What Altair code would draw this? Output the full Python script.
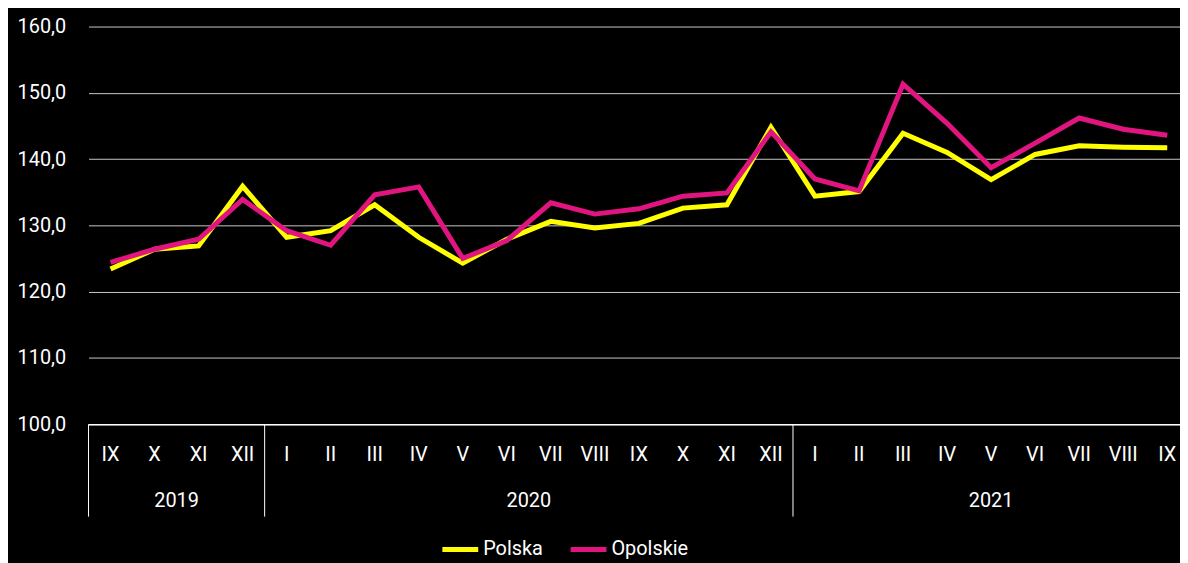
import altair as alt
import pandas as pd

months = ["IX", "X", "XI", "XII",
          "I", "II", "III", "IV", "V", "VI", "VII", "VIII", "IX", "X", "XI", "XII",
          "I", "II", "III", "IV", "V", "VI", "VII", "VIII", "IX"]
polska = [123.4, 126.4, 126.9, 135.9,
          128.2, 129.2, 133.1, 128.2, 124.3, 127.9, 130.6, 129.6, 130.3, 132.6, 133.1, 144.8,
          134.4, 135.1, 143.9, 141.0, 136.9, 140.7, 142.0, 141.8, 141.7]
opolskie = [124.4, 126.4, 127.9, 133.9,
            129.2, 127.0, 134.6, 135.8, 125.0, 127.7, 133.4, 131.7, 132.5, 134.4, 134.9, 144.1,
            137.0, 135.2, 151.3, 145.4, 138.7, 142.4, 146.2, 144.5, 143.6]
years = ["2019", "2020", "2021"]
year_centers = [1.5, 9.5, 20.0]
separators = [-0.5, 3.5, 15.5]
series_names = ["Polska", "Opolskie"]
series_colors = ["#FFFF00", "#E0157F"]

FONT = "Liberation Sans Narrow, Roboto, sans-serif"

rows = []
for i, m in enumerate(months):
    rows.append({"idx": i, "month": m, "series": "Polska", "value": polska[i]})
    rows.append({"idx": i, "month": m, "series": "Opolskie", "value": opolskie[i]})
df = pd.DataFrame(rows)
mdf = pd.DataFrame({"idx": list(range(len(months))), "month": months})
ydf = pd.DataFrame({"center": year_centers, "year": years})
sdf = pd.DataFrame({"pos": separators})

xscale = alt.Scale(domain=[-0.5, 24.29], nice=False, zero=False)
yscale = alt.Scale(domain=[100, 160], nice=False, zero=False)

lines = alt.Chart(df).mark_line(strokeWidth=5, strokeJoin="miter").encode(
    x=alt.X("idx:Q", scale=xscale,
            axis=alt.Axis(labels=False, ticks=False, grid=False, domain=True,
                          domainColor="#ffffff", domainWidth=1.5, title=None)),
    y=alt.Y("value:Q", scale=yscale,
            axis=alt.Axis(values=[100, 110, 120, 130, 140, 150, 160], ticks=False,
                          domain=False, grid=True, gridColor="#c8c8c8", gridWidth=1,
                          labelExpr="replace(format(datum.value, '.1f'), '.', ',')",
                          labelColor="#ffffff", labelFontSize=20, labelFont=FONT,
                          labelPadding=23, title=None)),
    color=alt.Color("series:N", sort=series_names,
                    scale=alt.Scale(domain=series_names, range=series_colors),
                    legend=alt.Legend(orient="none", legendX=353, legendY=505,
                                      direction="horizontal", title=None,
                                      symbolType="stroke", symbolStrokeWidth=5,
                                      symbolSize=1300, labelColor="#ffffff",
                                      labelFontSize=20, labelFont=FONT,
                                      labelOffset=2, columnPadding=16)),
    order=alt.Order("series:N", sort="descending"),
)

month_text = alt.Chart(mdf).mark_text(
    color="#ffffff", fontSize=20, font=FONT, baseline="middle"
).encode(
    x=alt.X("idx:Q", scale=xscale),
    y=alt.value(431),
    text="month:N",
)

year_text = alt.Chart(ydf).mark_text(
    color="#ffffff", fontSize=20, font=FONT, baseline="middle"
).encode(
    x=alt.X("center:Q", scale=xscale),
    y=alt.value(477),
    text="year:N",
)

seps = alt.Chart(sdf).mark_rule(color="#ffffff", strokeWidth=1).encode(
    x=alt.X("pos:Q", scale=xscale),
    y=alt.value(400),
    y2=alt.value(493),
)

chart = alt.layer(lines, month_text, year_text, seps).properties(
    width=1098, height=400,
    autosize=alt.AutoSizeParams(type="none"),
    padding={"left": 81, "top": 17, "right": 0, "bottom": 138},
    background="#000000",
).configure_view(stroke=None)

chart.save("out.html", embed_options={"renderer": "svg", "actions": False})
